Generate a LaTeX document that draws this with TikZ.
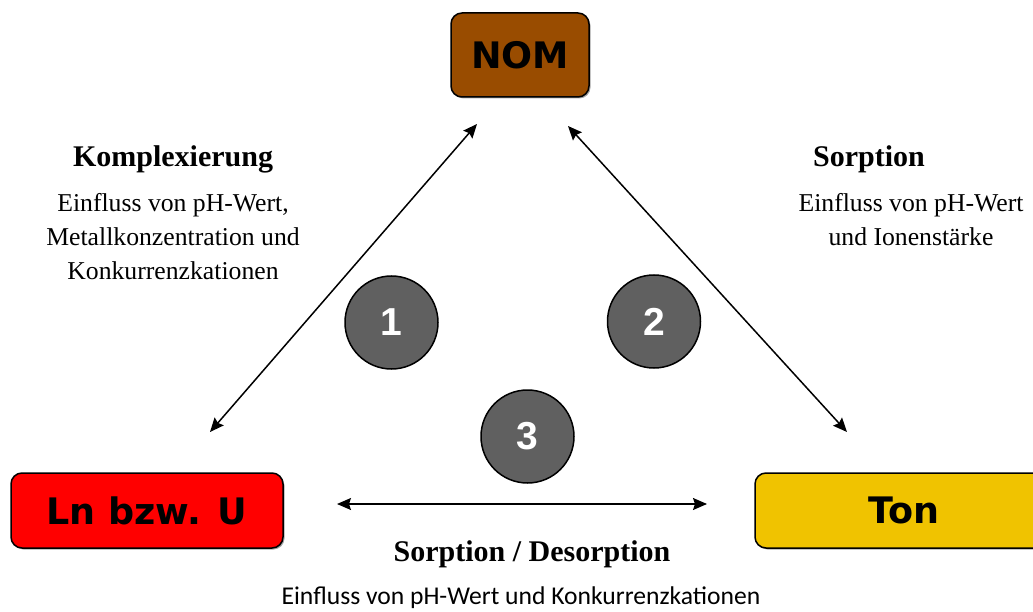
\documentclass[tikz,border=0pt]{standalone}
\usepackage{fontspec}
\setmainfont{Liberation Serif}
\newfontfamily\boxfont{DejaVu Sans}
\newfontfamily\numfont{Liberation Sans}
\newfontfamily\notefont{Carlito}
\usetikzlibrary{arrows.meta,shadows}

\definecolor{nombrown}{RGB}{153,76,0}
\definecolor{tonyellow}{RGB}{240,195,0}
\definecolor{stepgray}{RGB}{96,96,96}

\tikzset{
  species/.style={draw=black, line width=1.5pt, rounded corners=11pt,
    inner sep=0pt, minimum height=75pt,
    font=\boxfont\bfseries\fontsize{36.5}{40}\selectfont,
    drop shadow={shadow xshift=1.5pt, shadow yshift=-1.5pt, fill=black!35, opacity=1}},
  stepnum/.style={circle, draw=black, line width=1.5pt, fill=stepgray,
    minimum size=93pt, inner sep=0pt, text=white,
    font=\numfont\bfseries\fontsize{39}{40}\selectfont},
  heading/.style={anchor=base, font=\bfseries\fontsize{30}{34}\selectfont},
  effect/.style={anchor=north, align=center, inner sep=0pt,
    font=\fontsize{25.7}{34}\selectfont},
  link/.style={line width=1.5pt, {Stealth[length=14pt,width=12pt,inset=2pt]}-{Stealth[length=14pt,width=12pt,inset=2pt]}}
}

\begin{document}
\begin{tikzpicture}[x=1pt,y=-1pt]
  \useasboundingbox (0,0) rectangle (1033,612);

  % the three partners
  \node[species, fill=nombrown, minimum width=138pt, minimum height=84pt] (nom) at (520,55) {NOM};
  \node[species, fill=red, minimum width=272pt] (ln) at (147,510.5) {Ln bzw. U};
  \node[species, fill=tonyellow, minimum width=298pt] (ton) at (904,510.5) {Ton};

  % ends of the arrows
  \coordinate (kLow) at (210,432);
  \coordinate (kHigh) at (477,124);
  \coordinate (sHigh) at (568,126);
  \coordinate (sLow) at (847,432);
  \coordinate (dLeft) at (337,504);
  \coordinate (dRight) at (707,504);

  \draw[link] (kLow) -- (kHigh);
  \draw[link] (sHigh) -- (sLow);
  \draw[link] (dLeft) -- (dRight);

  % numbered processes
  \node[stepnum] (one) at (391.5,322.5) {1};
  \node[stepnum] (two) at (654,321.5) {2};
  \node[stepnum] (three) at (527.5,436.5) {3};

  % texts
  \node[heading] (komplex) at (173,167) {Komplexierung};
  \node[effect] (komplexNote) at (173,193) {Einfluss von pH-Wert,\\Metallkonzentration und\\Konkurrenzkationen};
  \node[heading] (sorp) at (869,167) {Sorption};
  \node[effect] (sorpNote) at (911,193) {Einfluss von pH-Wert\\und Ionenstärke};
  \node[heading] (desorp) at (532,561) {Sorption / Desorption};
  \node[anchor=base, font=\notefont\fontsize{25.6}{30}\selectfont] (desorpNote) at (521,604) {Einfluss von pH-Wert und Konkurrenzkationen};
\end{tikzpicture}
\end{document}
